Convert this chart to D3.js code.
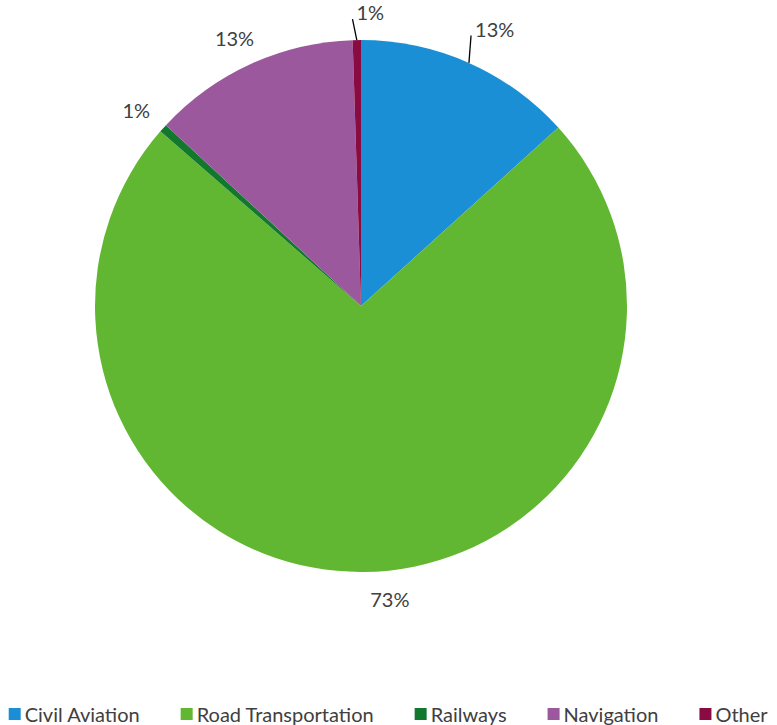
<!DOCTYPE html>
<html>
<head>
<meta charset="utf-8">
<script src="https://cdn.jsdelivr.net/npm/d3@7"></script>
<style>
  html, body { margin: 0; padding: 0; background: #fff; }
  svg { display: block; }
  text { font-family: Lato, "Open Sans", sans-serif; fill: #404040; }
</style>
</head>
<body>
<svg id="chart" width="777" height="725"></svg>
<script>
// Share of emissions by transport mode (percent)
const categories = ["Civil Aviation", "Road Transportation", "Railways", "Navigation", "Other"];
const shares = [13.3, 73.1, 0.5, 12.6, 0.5];
const colors = ["#1A8FD6", "#62B732", "#12782D", "#9B589C", "#8A0B42"];

const W = 777, H = 725;
const cx = 361, cy = 306, R = 266;
const fontSize = 20;

const svg = d3.select("#chart");

const data = categories.map((c, i) => ({ name: c, value: shares[i], color: colors[i] }));

const pie = d3.pie().value(d => d.value).sort(null);
const arcs = pie(data);
const arc = d3.arc().innerRadius(0).outerRadius(R);

const g = svg.append("g").attr("transform", `translate(${cx},${cy})`);

g.selectAll("path.slice")
  .data(arcs)
  .join("path")
  .attr("class", "slice")
  .attr("d", arc)
  .attr("fill", d => d.data.color);

// polar helper: angle in radians measured clockwise from 12 o'clock
const polar = (a, r) => [r * Math.sin(a), -r * Math.cos(a)];
const deg = Math.PI / 180;
const pct = d3.format(".0%");

// Labels: thin slices near the top get a leader line (end angle offset, end radius),
// the others sit just outside the rim
const leader = {
  "Civil Aviation": { da: -1.8 * deg, r: 292 },
  "Other": { da: -0.8 * deg, r: 287 }
};
const shift = { "Road Transportation": [26, -5], "Navigation": [-3, 3], "Railways": [-3, 3] };

arcs.forEach(d => {
  const mid = (d.startAngle + d.endAngle) / 2;
  const label = pct(d.data.value / 100);
  const ld = leader[d.data.name];
  if (ld) {
    const p0 = polar(mid, R);
    const p1 = polar(mid + ld.da, ld.r);
    g.append("line")
      .attr("x1", p0[0]).attr("y1", p0[1])
      .attr("x2", p1[0]).attr("y2", p1[1])
      .attr("stroke", "#000").attr("stroke-width", 1.3);
    g.append("text")
      .attr("x", p1[0] + 4).attr("y", p1[1] + 1)
      .attr("font-size", fontSize)
      .attr("text-anchor", "start")
      .text(label);
  } else {
    const p = polar(mid, 298);
    const s = shift[d.data.name] || [0, 0];
    g.append("text")
      .attr("x", p[0] + s[0]).attr("y", p[1] + s[1])
      .attr("font-size", fontSize)
      .attr("text-anchor", "middle")
      .attr("dominant-baseline", "central")
      .text(label);
  }
});

// Legend row along the bottom, centred
const sq = 12, gapText = 4, gapItem = 41, legendY = 714;
const legend = svg.append("g");
const items = legend.selectAll("g.item").data(data).join("g").attr("class", "item");
items.append("rect")
  .attr("width", sq).attr("height", sq)
  .attr("y", legendY - sq / 2)
  .attr("fill", d => d.color);
items.append("text")
  .attr("x", sq + gapText)
  .attr("y", legendY)
  .attr("dominant-baseline", "central")
  .attr("font-size", fontSize)
  .text(d => d.name);

let widths = [];
items.each(function() { widths.push(this.getBBox().width); });
const total = d3.sum(widths) + gapItem * (widths.length - 1);
let x = (W - total) / 2;
items.attr("transform", (d, i) => {
  const t = `translate(${x},0)`;
  x += widths[i] + gapItem;
  return t;
});
</script>
</body>
</html>
